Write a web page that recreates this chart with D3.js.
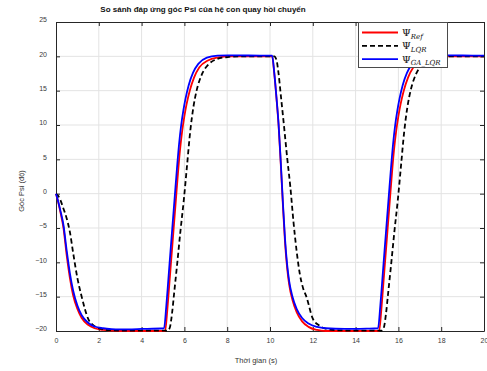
<!DOCTYPE html>
<html lang="vi">
<head>
    <meta charset="UTF-8">
    <title>So sanh dap ung goc Psi</title>
    <script src="https://cdn.jsdelivr.net/npm/d3@7"></script>
    <style>
        body {
            margin: 0;
            background: #fff;
        }

        svg {
            display: block;
            font-family: "Liberation Sans", Arial, sans-serif;
        }

        .grid line {
            stroke: #e3e3e3;
            stroke-width: 1px;
        }

        .axis path, .axis line {
            stroke: #262626;
            stroke-width: 1px;
        }

        .axis text {
            fill: #3a3a3a;
            font-size: 7px;
        }

        .curve {
            fill: none;
            stroke-width: 1.8px;
            stroke-linejoin: round;
        }

        .legend-box {
            fill: #fff;
            stroke: #4a4a4a;
            stroke-width: 1px;
        }

        .legend-text {
            font-family: "DejaVu Serif", "Liberation Serif", serif;
            fill: #111;
        }
    </style>
</head>
<body>
<svg width="487" height="371"></svg>
<script>

    // ---- data ----
    var xTicks = [0, 2, 4, 6, 8, 10, 12, 14, 16, 18, 20];
    var yTicks = [-20, -15, -10, -5, 0, 5, 10, 15, 20, 25];

    var seriesNames = ['Ref', 'LQR', 'GA\u005FLQR'];
    var seriesColors = ['#ff0000', '#000000', '#0000ff'];

    var timeRef = [0, 0.1, 0.2, 0.35, 0.5, 0.65, 0.8, 1.0, 1.2, 1.5, 1.8, 2.2, 2.6, 3.0, 4.0, 5.1,
        5.2, 5.3, 5.4, 5.5, 5.6, 5.7, 5.8, 5.9, 6.0, 6.1, 6.25, 6.45, 6.7, 7.1, 7.6, 8.1, 9.0, 10.1,
        10.2, 10.3, 10.4, 10.5, 10.6, 10.7, 10.8, 10.9, 11.05, 11.25, 11.5, 11.8, 12.2, 12.6, 13.5, 14.5, 15.1,
        15.2, 15.3, 15.4, 15.5, 15.6, 15.7, 15.8, 15.9, 16.0, 16.1, 16.25, 16.45, 16.7, 17.1, 17.6, 18.1, 19.0, 20.0];
    var psiRef = [0, -1.2, -2.6, -5.0, -9.0, -12.3, -14.8, -16.8, -18.1, -19.1, -19.6, -19.85, -19.95, -20, -20, -20,
        -17, -13, -9, -5, -1, 3, 6.5, 9.2, 11.3, 13, 15, 16.9, 18.4, 19.4, 19.85, 20, 20, 20,
        17.5, 14, 10, 4.5, -1.5, -7, -10.8, -13.3, -15.5, -17.3, -18.6, -19.4, -19.85, -20, -20, -20, -20,
        -17, -13, -9, -5, -1, 3, 6.5, 9.2, 11.3, 13, 15, 16.9, 18.4, 19.4, 19.85, 20, 20, 20];

    var timeLQR = [0, 0.1, 0.2, 0.35, 0.5, 0.65, 0.8, 1.0, 1.2, 1.5, 1.8, 2.2, 2.6, 3.0, 4.0, 5.22,
        5.32, 5.42, 5.52, 5.67, 5.82, 5.97, 6.12, 6.27, 6.42, 6.57, 6.82, 7.12, 7.52, 8.02, 8.52, 9.2, 10.2,
        10.3, 10.4, 10.5, 10.65, 10.8, 10.95, 11.1, 11.25, 11.4, 11.55, 11.7, 12.0, 12.3, 12.65, 13.2, 14.0, 15.22,
        15.32, 15.42, 15.52, 15.67, 15.82, 15.97, 16.12, 16.27, 16.42, 16.57, 16.82, 17.12, 17.52, 18.02, 18.52, 19.2, 20.0];
    var psiLQR = [0, -0.3, -0.9, -2.2, -3.6, -5.6, -8.6, -12.3, -15, -18.2, -19.3, -19.75, -19.9, -19.95, -19.95, -19.95,
        -19.5, -17.5, -14.5, -10, -5.3, -1, 4, 9, 12.6, 15, 17.4, 18.8, 19.6, 19.9, 20, 20, 20,
        19.5, 17.5, 14.5, 10, 5.3, 1, -4.2, -8.5, -11.8, -13.8, -15, -18.2, -19.2, -19.7, -19.9, -19.95, -19.95,
        -19.5, -17.5, -14.5, -10, -5.3, -1, 4, 9, 12.6, 15, 17.4, 18.8, 19.6, 19.9, 20, 20, 20];

    var timeGA = [0, 0.1, 0.2, 0.35, 0.5, 0.65, 0.8, 1.0, 1.2, 1.5, 1.8, 2.2, 2.6, 3.0, 4.0, 5.05,
        5.15, 5.25, 5.35, 5.45, 5.55, 5.65, 5.75, 5.85, 5.95, 6.05, 6.2, 6.4, 6.65, 7.05, 7.55, 8.05, 9.0, 10.1,
        10.2, 10.3, 10.4, 10.5, 10.6, 10.7, 10.8, 10.9, 11.05, 11.25, 11.5, 11.8, 12.2, 12.6, 13.5, 14.5, 15.05,
        15.15, 15.25, 15.35, 15.45, 15.55, 15.65, 15.75, 15.85, 15.95, 16.05, 16.2, 16.4, 16.65, 17.05, 17.55, 18.05, 19.0, 20.0];
    var psiGA = [0, -1.1, -2.4, -4.6, -8.3, -11.6, -14.1, -16.3, -17.7, -18.8, -19.35, -19.6, -19.72, -19.76, -19.7, -19.6,
        -16.5, -12.5, -8.4, -4.4, -0.4, 3.6, 7.2, 10, 12.1, 13.8, 15.8, 17.6, 18.9, 19.8, 20.1, 20.15, 20.12, 20.1,
        17.6, 14.1, 10.2, 4.8, -1.1, -6.5, -10.3, -12.8, -15, -16.8, -18.1, -18.9, -19.4, -19.6, -19.7, -19.65, -19.6,
        -16.5, -12.5, -8.4, -4.4, -0.4, 3.6, 7.2, 10, 12.1, 13.8, 15.8, 17.6, 18.9, 19.8, 20.1, 20.15, 20.12, 20.1];

    var series = [
        {name: seriesNames[0], color: seriesColors[0], dash: null, t: timeRef, v: psiRef},
        {name: seriesNames[1], color: seriesColors[1], dash: '5,3', t: timeLQR, v: psiLQR},
        {name: seriesNames[2], color: seriesColors[2], dash: null, t: timeGA, v: psiGA}
    ];

    // ---- layout ----
    var svg = d3.select('svg');
    var plotLeft = 56, plotRight = 484, plotTop = 22, plotBottom = 331;

    var x = d3.scaleLinear().domain([0, 20]).range([plotLeft, plotRight]);
    var y = d3.scaleLinear().domain([-20, 25]).range([plotBottom, plotTop]);

    // grid
    var grid = svg.append('g').attr('class', 'grid');
    grid.selectAll('.gx').data(xTicks.slice(1, -1)).enter().append('line')
        .attr('x1', function (d) { return x(d); })
        .attr('x2', function (d) { return x(d); })
        .attr('y1', plotTop).attr('y2', plotBottom);
    grid.selectAll('.gy').data(yTicks.slice(1, -1)).enter().append('line')
        .attr('y1', function (d) { return y(d); })
        .attr('y2', function (d) { return y(d); })
        .attr('x1', plotLeft).attr('x2', plotRight);

    // axes (ticks pointing inwards like matlab)
    svg.append('g').attr('class', 'axis')
        .attr('transform', 'translate(0,' + plotBottom + ')')
        .call(d3.axisBottom(x).tickValues(xTicks).tickSizeInner(-4).tickSizeOuter(0).tickPadding(7))
        .selectAll('text').attr('dy', '0.71em');

    svg.append('g').attr('class', 'axis')
        .attr('transform', 'translate(' + plotLeft + ',0)')
        .call(d3.axisLeft(y).tickValues(yTicks).tickSizeInner(-4).tickSizeOuter(0).tickPadding(9))
        .selectAll('text').attr('y', -2.5);

    svg.append('g').attr('class', 'axis')
        .attr('transform', 'translate(0,' + plotTop + ')')
        .call(d3.axisTop(x).tickValues(xTicks).tickSizeInner(-4).tickSizeOuter(0).tickFormat(''));

    svg.append('g').attr('class', 'axis')
        .attr('transform', 'translate(' + plotRight + ',0)')
        .call(d3.axisRight(y).tickValues(yTicks).tickSizeInner(-4).tickSizeOuter(0).tickFormat(''));

    // curves
    svg.append('clipPath').attr('id', 'plot-clip')
        .append('rect')
        .attr('x', plotLeft - 1).attr('y', plotTop - 1)
        .attr('width', plotRight - plotLeft + 2).attr('height', plotBottom - plotTop + 2);

    var line = d3.line()
        .x(function (d) { return x(d[0]); })
        .y(function (d) { return y(d[1]); })
        .curve(d3.curveMonotoneX);

    var curves = svg.append('g').attr('clip-path', 'url(#plot-clip)');
    series.forEach(function (s) {
        var pts = s.t.map(function (t, i) { return [t, s.v[i]]; });
        curves.append('path')
            .attr('class', 'curve')
            .attr('d', line(pts))
            .attr('stroke', s.color)
            .attr('stroke-dasharray', s.dash);
    });

    // legend
    var legend = svg.append('g').attr('transform', 'translate(358,22)');
    legend.append('rect').attr('class', 'legend-box')
        .attr('x', 0.5).attr('y', 0.5).attr('width', 89).attr('height', 45);

    series.forEach(function (s, i) {
        var ly = 10.5 + i * 13.3;
        legend.append('line')
            .attr('x1', 4).attr('x2', 40)
            .attr('y1', ly).attr('y2', ly)
            .attr('stroke', s.color)
            .attr('stroke-width', 1.8)
            .attr('stroke-dasharray', s.dash);
        var txt = legend.append('text').attr('class', 'legend-text')
            .attr('x', 44).attr('y', ly + 3.5);
        txt.append('tspan').attr('font-size', '10px').text('\u03A8');
        txt.append('tspan').attr('font-size', '7px').attr('font-style', 'italic')
            .attr('dy', 2.5).text(s.name);
    });

    // texts
    svg.append('text')
        .attr('x', 203).attr('y', 11.5)
        .attr('text-anchor', 'middle')
        .attr('font-size', '8px').attr('font-weight', 'bold').attr('fill', '#111')
        .text('So sánh đáp ứng góc Psi của hệ con quay hồi chuyển');

    svg.append('text')
        .attr('x', 256).attr('y', 363)
        .attr('text-anchor', 'middle')
        .attr('font-size', '7.5px').attr('fill', '#333')
        .text('Thời gian (s)');

    svg.append('text')
        .attr('transform', 'translate(24,191) rotate(-90)')
        .attr('text-anchor', 'middle')
        .attr('font-size', '7.5px').attr('fill', '#333')
        .text('Góc Psi (độ)');

</script>
</body>
</html>
